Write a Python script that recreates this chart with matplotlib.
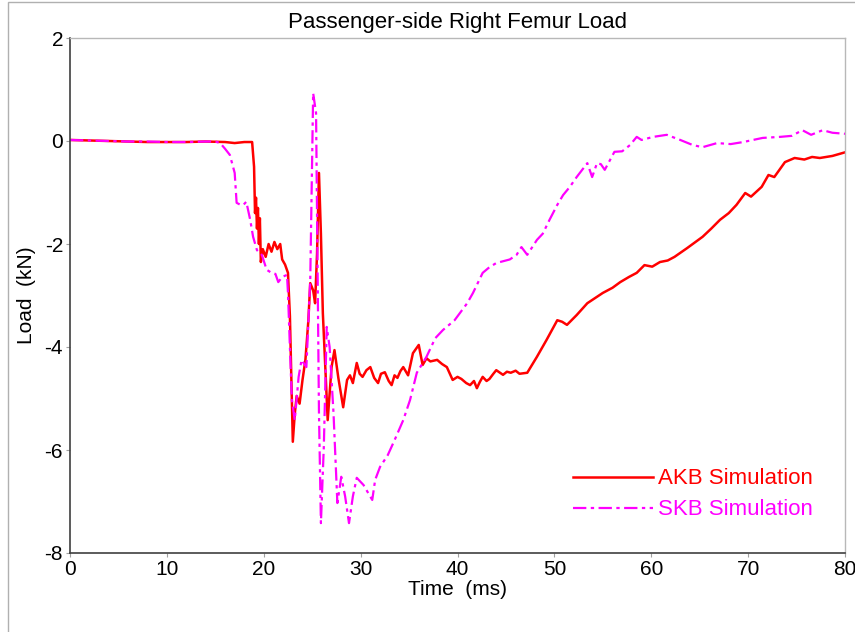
import matplotlib
matplotlib.use("Agg")
import matplotlib.pyplot as plt
from matplotlib.patches import Rectangle

plt.rcParams['font.family'] = ['Liberation Sans', 'DejaVu Sans']
plt.rcParams['axes.unicode_minus'] = False

akb_t = [0, 2, 4, 6, 8, 10, 12, 14, 16, 17, 18, 18.8, 19.0, 19.1, 19.2, 19.3, 19.4, 19.5, 19.6, 19.7,
         19.9, 20.2, 20.5, 20.8, 21.1, 21.4, 21.7, 21.9, 22.2, 22.5, 22.7, 22.9, 23.0, 23.2, 23.4,
         23.7, 24.0, 24.3, 24.6, 24.8, 25.1, 25.3, 25.5, 25.7, 25.9, 26.1, 26.4, 26.6, 26.8, 27.0,
         27.3, 27.7, 28.2, 28.6, 28.9, 29.2, 29.6, 29.9, 30.2, 30.6, 31.0, 31.4, 31.8, 32.1, 32.5, 32.9, 33.2, 33.5, 33.8, 34.1, 34.4, 34.9, 35.4,
         36.0, 36.4, 36.8, 37.2, 37.9, 38.4, 38.9, 39.5, 40.0, 40.4, 40.9, 41.3, 41.7, 42.0, 42.3, 42.6, 43.0, 43.3, 43.7, 44.0, 44.7, 45.1, 45.5, 46.0, 46.4,
         47.2, 48.2, 49.2, 50.3, 50.8, 51.3, 52.3, 53.4, 54.2, 55.0, 56.0, 56.8, 57.7, 58.5, 59.3,
         60.1, 60.9, 61.7, 62.4, 63.7, 64.5, 65.3, 66.2, 67.1, 68.0, 68.8, 69.7, 70.3, 71.4, 72.1,
         72.7, 73.8, 74.8, 75.8, 76.6, 77.4, 78.7, 80.0]
akb_v = [0.02, 0.01, 0.0, -0.01, -0.02, -0.02, -0.02, -0.01, -0.02, -0.04, -0.02, -0.02, -0.5, -1.4, -1.1, -1.7, -1.3, -2.0, -1.5, -2.35,
         -2.1, -2.25, -2.0, -2.15, -1.96, -2.1, -2.0, -2.3, -2.4, -2.56, -3.4, -5.0, -5.84, -5.3, -4.95,
         -5.1, -4.64, -4.25, -3.5, -2.76, -2.9, -3.15, -2.2, -0.62, -1.8, -3.34, -4.6, -5.42, -4.9, -4.39,
         -4.06, -4.6, -5.17, -4.64, -4.55, -4.70, -4.31, -4.52, -4.58, -4.45, -4.39, -4.60, -4.70, -4.52, -4.49, -4.66, -4.74, -4.55, -4.60, -4.47, -4.39, -4.55, -4.12,
         -3.96, -4.35, -4.22, -4.28, -4.25, -4.33, -4.39, -4.64, -4.58, -4.62, -4.70, -4.74, -4.66, -4.80, -4.68, -4.58, -4.66, -4.62, -4.52, -4.45, -4.54, -4.48, -4.50, -4.46, -4.52,
         -4.50, -4.19, -3.86, -3.48, -3.51, -3.57, -3.38, -3.15, -3.05, -2.95, -2.85, -2.74, -2.64, -2.56, -2.41,
         -2.44, -2.35, -2.32, -2.25, -2.08, -1.97, -1.86, -1.70, -1.53, -1.40, -1.24, -1.01, -1.08, -0.89, -0.66,
         -0.70, -0.41, -0.33, -0.36, -0.31, -0.33, -0.29, -0.22]

skb_t = [0, 2, 4, 6, 8, 10, 12, 14, 15.0, 15.5, 16.0, 16.5, 17.0, 17.2, 17.6, 17.9, 18.2, 18.6, 18.9,
         19.3, 19.8, 20.3, 20.8, 21.2, 21.5, 21.9, 22.4, 22.5, 22.7, 22.9, 23.2, 23.6, 23.9, 24.4,
         24.8, 25.1, 25.4, 25.5, 25.7, 25.9, 26.2, 26.5, 26.8, 27.2, 27.6, 28.0, 28.4, 28.8, 29.2,
         29.6, 30.3, 31.2, 31.5, 32.0, 32.8, 33.5, 34.4, 35.1, 35.8, 36.8, 37.7, 38.5, 39.7, 41.0,
         41.6, 42.6, 43.3, 44.0, 44.8, 45.4, 46.1, 46.6, 47.2, 48.2, 48.8, 49.5, 50.3, 50.9, 51.6,
         52.3, 53.4, 53.9, 54.4, 54.8, 55.2, 56.2, 57.0, 57.8, 58.5, 59.0, 60.2, 61.6, 63.0, 64.3,
         65.3, 66.8, 68.2, 69.5, 71.5, 73.3, 74.5, 75.6, 76.5, 77.7, 78.7, 80.0]
skb_v = [0.02, 0.01, 0.0, -0.01, -0.01, -0.02, -0.02, -0.01, -0.01, -0.04, -0.15, -0.27, -0.62, -1.2, -1.24, -1.24, -1.18, -1.53, -1.86,
         -2.12, -2.21, -2.50, -2.56, -2.58, -2.74, -2.64, -2.60, -2.95, -4.0, -5.03, -5.42, -4.58, -4.25, -4.39,
         -2.70, 0.93, 0.54, -1.40, -5.28, -7.42, -5.94, -3.61, -4.0, -5.28, -7.03, -6.52, -6.9, -7.42, -6.9,
         -6.54, -6.68, -6.97, -6.58, -6.33, -6.1, -5.81, -5.42, -5.03, -4.50, -4.19, -3.83, -3.67, -3.48, -3.15,
         -2.95, -2.56, -2.45, -2.37, -2.33, -2.30, -2.21, -2.06, -2.21, -1.92, -1.80, -1.53, -1.24, -1.05, -0.89,
         -0.70, -0.43, -0.70, -0.43, -0.45, -0.56, -0.21, -0.20, -0.08, 0.08, 0.02, 0.08, 0.12, 0.02, -0.08,
         -0.12, -0.04, -0.06, -0.02, 0.06, 0.08, 0.10, 0.21, 0.12, 0.21, 0.16, 0.14]

x_ticks = [0, 10, 20, 30, 40, 50, 60, 70, 80]
y_ticks = [-8, -6, -4, -2, 0, 2]

fig = plt.figure(figsize=(8.55, 6.32), dpi=100)
fig.patches.append(Rectangle((8 / 855, -0.01), 1.0, 1 - 1.5 / 632 + 0.01, transform=fig.transFigure,
                             fill=False, edgecolor='#b0b0b0', linewidth=1.0))
ax = fig.add_axes([70 / 855, 1 - 553 / 632, 775 / 855, 515 / 632])

ax.plot(akb_t, akb_v, color='#ff0000', linewidth=1.8, label='AKB Simulation')
ax.plot(skb_t, skb_v, color='#ff00ff', linewidth=1.6, linestyle=(0, (6, 2, 1.5, 2)), label='SKB Simulation')

ax.set_xlim(0, 80)
ax.set_ylim(-8, 2)
ax.set_xticks(x_ticks)
ax.set_yticks(y_ticks)
ax.tick_params(direction='out', length=3, color='#a0a0a0', labelsize=15, pad=2)
for s in ['left', 'bottom']:
    ax.spines[s].set_color('#404040')
    ax.spines[s].set_linewidth(1.2)
for s in ['top', 'right']:
    ax.spines[s].set_color('#b8b8b8')
    ax.spines[s].set_linewidth(1.0)

ax.set_title('Passenger-side Right Femur Load', fontsize=16, pad=7)
ax.set_xlabel('Time  (ms)', fontsize=15, labelpad=1)
ax.set_ylabel('Load  (kN)', fontsize=15, labelpad=6)

leg = ax.legend(loc='lower right', bbox_to_anchor=(0.978, 0.033), frameon=False, fontsize=16,
                handlelength=3.6, handletextpad=0.2, labelspacing=0.45, borderpad=0.2)
for txt, line in zip(leg.get_texts(), leg.get_lines()):
    txt.set_color(line.get_color())

fig.savefig('out.png', dpi=100)
